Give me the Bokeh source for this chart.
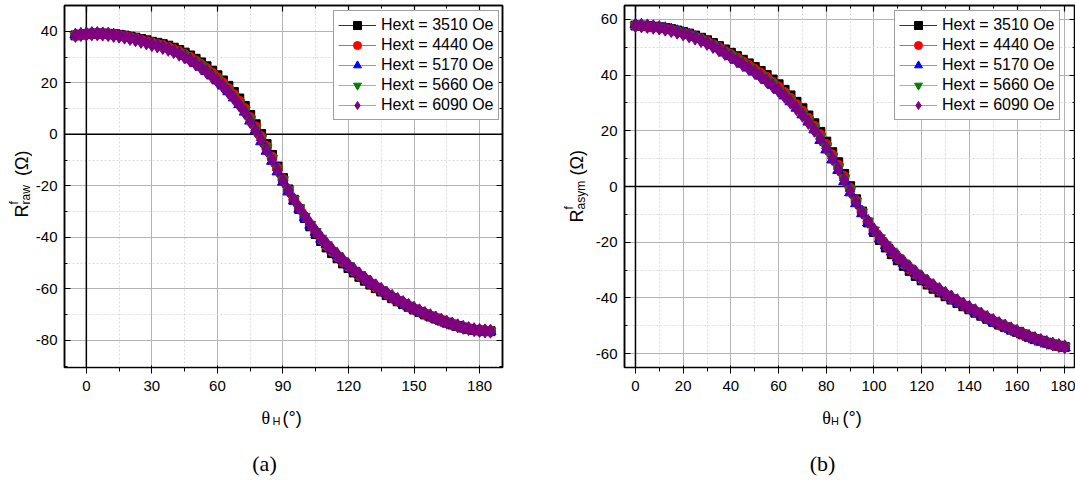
import numpy as np
from bokeh.plotting import figure
from bokeh.models import (Range1d, LinearAxis, SingleIntervalTicker, Span, Label, Legend,
                          LegendItem, PrintfTickFormatter, CustomJSTickFormatter)
from bokeh.layouts import row, column
from bokeh.embed import file_html
from bokeh.resources import INLINE

# ---------------- data ----------------
series_names = ["Hext = 3510 Oe", "Hext = 4440 Oe", "Hext = 5170 Oe", "Hext = 5660 Oe", "Hext = 6090 Oe"]

# panel (a): raw, theta_H from -5 to 185 deg
theta_a = np.arange(-5, 187.5, 2.5)
raw_3510 = [38.4, 38.7, 38.9, 39.1, 39.1, 39.1, 39.0, 38.8, 38.6, 38.3,
            37.9, 37.5, 37.0, 36.5, 35.9, 35.5, 35.0, 34.4, 33.6, 32.7,
            31.7, 30.6, 29.3, 27.9, 26.4, 24.7, 22.9, 20.9, 18.8, 16.4,
            13.9, 11.0, 7.5, 3.9, 0.1, -3.8, -8.0, -12.5, -17.0, -21.4,
            -25.4, -29.0, -32.5, -35.7, -38.7, -41.4, -43.9, -46.1, -48.1, -50.1,
            -51.9, -53.6, -55.3, -56.8, -58.3, -59.7, -61.0, -62.4, -63.6, -64.8,
            -65.9, -66.9, -68.0, -68.9, -69.9, -70.7, -71.5, -72.3, -73.1, -73.8,
            -74.4, -75.0, -75.5, -75.9, -76.1, -76.3, -76.4]
raw_4440 = [38.4, 38.7, 38.9, 39.1, 39.1, 39.0, 38.9, 38.6, 38.4, 38.1,
            37.6, 37.2, 36.6, 36.1, 35.5, 35.0, 34.5, 33.8, 33.0, 32.1,
            31.0, 29.9, 28.5, 27.1, 25.6, 23.8, 22.0, 20.0, 17.8, 15.4,
            12.9, 10.0, 6.5, 2.9, -0.9, -4.7, -8.8, -13.1, -17.4, -21.6,
            -25.4, -28.8, -32.1, -35.2, -38.1, -40.8, -43.2, -45.4, -47.5, -49.5,
            -51.3, -53.1, -54.8, -56.3, -57.8, -59.3, -60.6, -62.0, -63.3, -64.5,
            -65.6, -66.7, -67.8, -68.7, -69.7, -70.6, -71.4, -72.2, -73.0, -73.7,
            -74.4, -75.0, -75.5, -75.9, -76.1, -76.3, -76.4]
raw_5170 = [38.7, 39.0, 39.2, 39.3, 39.3, 39.2, 39.0, 38.7, 38.4, 38.0,
            37.5, 37.0, 36.4, 35.8, 35.1, 34.6, 34.0, 33.3, 32.4, 31.4,
            30.3, 29.0, 27.6, 26.1, 24.5, 22.7, 20.8, 18.8, 16.6, 14.2,
            11.6, 8.7, 5.2, 1.6, -2.8, -6.5, -10.4, -14.5, -18.5, -22.3,
            -25.8, -29.0, -32.2, -35.2, -38.0, -40.6, -42.7, -44.9, -47.0, -49.0,
            -50.9, -52.7, -54.4, -56.0, -57.5, -59.0, -60.4, -61.8, -63.1, -64.3,
            -65.5, -66.6, -67.7, -68.7, -69.7, -70.6, -71.5, -72.3, -73.1, -73.8,
            -74.5, -75.1, -75.6, -76.0, -76.2, -76.4, -76.5]
raw_5660 = [38.4, 38.7, 38.9, 39.0, 39.0, 39.0, 38.8, 38.5, 38.3, 37.9,
            37.4, 36.9, 36.4, 35.8, 35.1, 34.7, 34.1, 33.4, 32.6, 31.6,
            30.5, 29.3, 28.0, 26.5, 24.9, 23.2, 21.3, 19.3, 17.1, 14.7,
            12.2, 9.3, 5.8, 2.2, -1.6, -5.3, -9.3, -13.6, -17.7, -21.7,
            -25.3, -28.6, -31.9, -35.0, -37.8, -40.4, -42.9, -45.1, -47.1, -49.1,
            -51.0, -52.8, -54.5, -56.1, -57.6, -59.0, -60.4, -61.8, -63.1, -64.3,
            -65.5, -66.5, -67.6, -68.6, -69.6, -70.5, -71.4, -72.2, -73.0, -73.7,
            -74.3, -74.9, -75.4, -75.8, -76.1, -76.3, -76.4]
raw_6090 = [38.4, 38.7, 38.9, 39.0, 39.0, 38.9, 38.7, 38.4, 38.1, 37.7,
            37.2, 36.7, 36.1, 35.5, 34.8, 34.3, 33.7, 33.0, 32.1, 31.1,
            30.0, 28.8, 27.4, 25.9, 24.3, 22.5, 20.6, 18.6, 16.4, 14.0,
            11.4, 8.5, 5.0, 1.4, -2.3, -6.0, -9.9, -14.0, -18.0, -21.8,
            -25.3, -28.5, -31.7, -34.7, -37.5, -40.1, -42.5, -44.7, -46.8, -48.8,
            -50.7, -52.5, -54.2, -55.8, -57.3, -58.8, -60.2, -61.6, -62.9, -64.1,
            -65.3, -66.4, -67.5, -68.5, -69.5, -70.4, -71.3, -72.1, -72.9, -73.6,
            -74.3, -74.9, -75.4, -75.8, -76.1, -76.3, -76.4]

# panel (b): asymmetric part, theta_H from 0 to 180 deg
theta_b = np.arange(0, 182.5, 2.5)
asym_3510 = [57.8, 57.8, 57.6, 57.4, 57.2, 56.9, 56.5, 56.0, 55.5, 54.9,
             54.2, 53.4, 52.5, 51.5, 50.4, 49.2, 48.0, 46.8, 45.5, 44.2,
             42.9, 41.5, 40.0, 38.4, 36.7, 34.7, 32.7, 30.4, 28.1, 25.5,
             22.7, 19.6, 16.1, 12.3, 8.7, 4.5, 0.1, -4.6, -9.0, -12.9,
             -16.3, -19.2, -21.9, -24.3, -26.5, -28.5, -30.3, -32.1, -33.7, -35.2,
             -36.7, -38.0, -39.4, -40.6, -41.8, -43.0, -44.1, -45.3, -46.4, -47.5,
             -48.6, -49.6, -50.5, -51.4, -52.2, -53.1, -54.0, -54.8, -55.4, -56.1,
             -56.7, -57.2, -57.6]
asym_4440 = [57.8, 57.8, 57.6, 57.3, 57.1, 56.7, 56.3, 55.8, 55.2, 54.6,
             53.8, 53.0, 52.1, 51.0, 49.9, 48.6, 47.4, 46.2, 44.8, 43.5,
             42.1, 40.7, 39.2, 37.5, 35.8, 33.8, 31.7, 29.4, 27.1, 24.5,
             21.7, 18.6, 15.1, 11.4, 7.7, 3.6, -0.6, -5.0, -9.1, -12.7,
             -15.9, -18.7, -21.3, -23.7, -25.8, -27.8, -29.7, -31.5, -33.1, -34.7,
             -36.2, -37.5, -38.9, -40.2, -41.4, -42.6, -43.8, -45.0, -46.1, -47.3,
             -48.4, -49.4, -50.3, -51.3, -52.1, -53.0, -53.9, -54.7, -55.4, -56.1,
             -56.7, -57.2, -57.6]
asym_5170 = [58.2, 58.1, 57.9, 57.6, 57.3, 56.9, 56.4, 55.8, 55.2, 54.5,
             53.7, 52.8, 51.8, 50.7, 49.5, 48.0, 46.7, 45.4, 44.0, 42.6,
             41.2, 39.7, 38.1, 36.4, 34.6, 32.6, 30.5, 28.2, 25.8, 23.2,
             20.4, 16.6, 13.2, 9.6, 5.8, 1.8, -2.2, -6.1, -9.7, -13.0,
             -16.0, -18.7, -21.2, -23.5, -25.6, -27.6, -29.3, -31.1, -32.8, -34.4,
             -35.9, -37.3, -38.7, -40.0, -41.3, -42.5, -43.7, -44.9, -46.1, -47.3,
             -48.4, -49.4, -50.3, -51.3, -52.2, -53.1, -54.0, -54.8, -55.5, -56.2,
             -56.8, -57.3, -57.8]
asym_5660 = [57.8, 57.7, 57.5, 57.3, 57.0, 56.6, 56.2, 55.6, 55.0, 54.3,
             53.6, 52.7, 51.7, 50.7, 49.5, 48.2, 47.0, 45.7, 44.3, 42.9,
             41.6, 40.1, 38.5, 36.9, 35.1, 33.1, 31.0, 28.7, 26.4, 23.8,
             21.0, 17.9, 14.4, 10.8, 7.0, 3.0, -1.2, -5.3, -9.2, -12.6,
             -15.7, -18.5, -21.0, -23.3, -25.5, -27.5, -29.3, -31.1, -32.8, -34.4,
             -35.9, -37.3, -38.7, -39.9, -41.2, -42.4, -43.6, -44.8, -46.0, -47.1,
             -48.2, -49.3, -50.2, -51.2, -52.1, -53.0, -53.9, -54.7, -55.3, -56.0,
             -56.6, -57.1, -57.6]
asym_6090 = [57.8, 57.7, 57.5, 57.2, 56.9, 56.5, 56.0, 55.4, 54.8, 54.1,
             53.3, 52.4, 51.4, 50.3, 49.1, 47.8, 46.5, 45.2, 43.8, 42.4,
             41.0, 39.5, 37.9, 36.2, 34.4, 32.4, 30.3, 28.0, 25.6, 23.0,
             20.2, 17.1, 13.7, 10.1, 6.3, 2.3, -1.7, -5.6, -9.2, -12.5,
             -15.5, -18.2, -20.7, -23.0, -25.1, -27.1, -29.0, -30.8, -32.5, -34.1,
             -35.6, -37.0, -38.4, -39.7, -41.0, -42.2, -43.4, -44.6, -45.8, -47.0,
             -48.1, -49.2, -50.1, -51.1, -52.0, -52.9, -53.8, -54.6, -55.3, -56.0,
             -56.6, -57.1, -57.6]

raw_series = [raw_3510, raw_4440, raw_5170, raw_5660, raw_6090]
asym_series = [asym_3510, asym_4440, asym_5170, asym_5660, asym_6090]

# ---------------- styles ----------------
colors = ["#000000", "#ff0000", "#0000ff", "#008000", "#800080"]
line_alphas = [0.8, 0.7, 0.45, 0.45, 0.45]
markers = ["square", "circle", "triangle", "inverted_triangle", "diamond"]
msizes = [9, 10, 11, 11, 14]
SANS = "Liberation Sans"
SERIF = "Liberation Serif"
TOP_H = 395
# measured placement offset of rotated (left/alphabetic) labels, in pixels
ROT_DX = -5.5
ROT_DY = 28.0


def label(p, text, x, y, size, angle=0.0, font=SANS, align="left"):
    p.add_layout(Label(x=x, y=y, x_units="screen", y_units="screen", text=text,
                       angle=angle, text_font=font, text_font_size=f"{size}px",
                       text_align=align, text_baseline="alphabetic", text_color="black"))


def vlabel(p, text, page_x, page_y, size):
    # rotated text read bottom-to-top; (page_x, page_y) = start of its baseline
    label(p, text, page_x + ROT_DX, TOP_H - page_y - ROT_DY, size, angle=np.pi / 2)


def text_fig(width, height):
    f = figure(width=width, height=height, x_range=Range1d(0, 1), y_range=Range1d(0, 1),
               output_backend="svg", toolbar_location=None,
               x_axis_location=None, y_axis_location=None, min_border=0)
    f.outline_line_color = None
    f.grid.visible = False
    return f


def panel(theta, series, width, mb_left, mb_right, mb_top, mb_bottom, xr, yr, xint, legend_xy):
    p = figure(width=width, height=TOP_H, x_range=Range1d(*xr), y_range=Range1d(*yr),
               output_backend="svg", toolbar_location=None,
               min_border_left=mb_left, min_border_right=mb_right,
               min_border_top=mb_top, min_border_bottom=mb_bottom)
    p.outline_line_color = "black"
    p.outline_line_width = 1.5
    xt = SingleIntervalTicker(interval=xint, num_minor_ticks=2)
    yt = SingleIntervalTicker(interval=20, num_minor_ticks=2)
    p.xaxis.ticker = xt
    p.yaxis.ticker = yt
    for ax in (p.xaxis[0], p.yaxis[0]):
        ax.formatter = PrintfTickFormatter(format="%d")
        ax.major_label_text_font = SANS
        ax.major_label_text_font_size = "15px"
        ax.major_label_text_color = "black"
    p.xaxis.major_label_standoff = 7
    p.yaxis.major_label_standoff = 7
    blank = CustomJSTickFormatter(code="return ''")
    top = LinearAxis(ticker=xt, formatter=blank, major_label_text_font_size="1px", major_label_standoff=0)
    right = LinearAxis(ticker=yt, formatter=blank, major_label_text_font_size="1px", major_label_standoff=0)
    p.add_layout(top, "above")
    p.add_layout(right, "right")
    for ax in (p.xaxis[0], p.yaxis[0], top, right):
        ax.axis_line_color = "black"
        ax.axis_line_width = 1.5
        ax.major_tick_in = 6
        ax.major_tick_out = 0
        ax.minor_tick_in = 3
        ax.minor_tick_out = 0
        ax.major_tick_line_color = "black"
        ax.minor_tick_line_color = "black"
        ax.major_tick_line_width = 1.2
    for g in (p.xgrid[0], p.ygrid[0]):
        g.grid_line_color = "#b3b3b3"
        g.grid_line_width = 1
        g.minor_grid_line_color = "#dadada"
        g.minor_grid_line_dash = "2 2"
    p.add_layout(Span(location=0, dimension="height", line_color="black", line_width=1.5, level="underlay"))
    p.add_layout(Span(location=0, dimension="width", line_color="black", line_width=1.5, level="underlay"))

    items = []
    for ys, name, c, la, m, s in zip(series, series_names, colors, line_alphas, markers, msizes):
        ln = p.line(theta, ys, line_color=c, line_alpha=la, line_width=1)
        sc = p.scatter(theta, ys, marker=m, size=s, fill_color=c, line_color=c)
        items.append(LegendItem(label=name, renderers=[ln, sc]))
    leg = Legend(items=items, location=legend_xy, padding=4, spacing=0, margin=0,
                 glyph_width=38, glyph_height=20, label_height=20, label_standoff=5,
                 label_text_font=SANS, label_text_font_size="16px", label_text_color="black",
                 label_text_baseline="middle",
                 border_line_color="#404040", border_line_width=1,
                 background_fill_color="white", background_fill_alpha=1.0)
    p.add_layout(leg)
    return p


# panel (a): x 32..560, frame 63..502 x 4..367
pa = panel(theta_a, raw_series, 528, 31, 58, 4, TOP_H - 367, (-10, 190.5), (-90.5, 50), 30, (269, 247))
# panel (b): x 592..1075, frame 622..1075 x 5..369
pb = panel(theta_b, asym_series, 483, 30, 0, 5, TOP_H - 369, (-4.6, 184.5), (-65, 65), 20, (270, 247))

# y-axis title (a): canvas x 0..32
ya = text_fig(32, TOP_H)
vlabel(ya, "R", 27, 217, 18)
vlabel(ya, "f", 18.5, 204, 12)
vlabel(ya, "raw", 30.5, 204, 12)
vlabel(ya, "(Ω)", 27, 175.5, 18)

# y-axis title (b): canvas x 560..592
yb = text_fig(32, TOP_H)
vlabel(yb, "R", 22, 222, 18)
vlabel(yb, "f", 14, 209, 12)
vlabel(yb, "asym", 26, 209, 12)
vlabel(yb, "(Ω)", 22, 175, 18)

# x-axis titles and captions: canvas y 395..480
BOT_H = 480 - TOP_H
xb = text_fig(1075, BOT_H)
label(xb, "θ", 261, 480 - 417, 18, font=SERIF)
label(xb, "H", 272, 480 - 420.5, 11)
label(xb, "(°)", 282, 480 - 417, 18)
label(xb, "(a)", 264, 480 - 463, 22, font=SERIF, align="center")
label(xb, "θ", 821.7, 480 - 417, 18, font=SERIF)
label(xb, "H", 830.5, 480 - 420.5, 11)
label(xb, "(°)", 842, 480 - 417, 18)
label(xb, "(b)", 822, 480 - 463, 22, font=SERIF, align="center")

layout = column(row(ya, pa, yb, pb), xb)
open("out.html", "w").write(file_html(layout, INLINE))
